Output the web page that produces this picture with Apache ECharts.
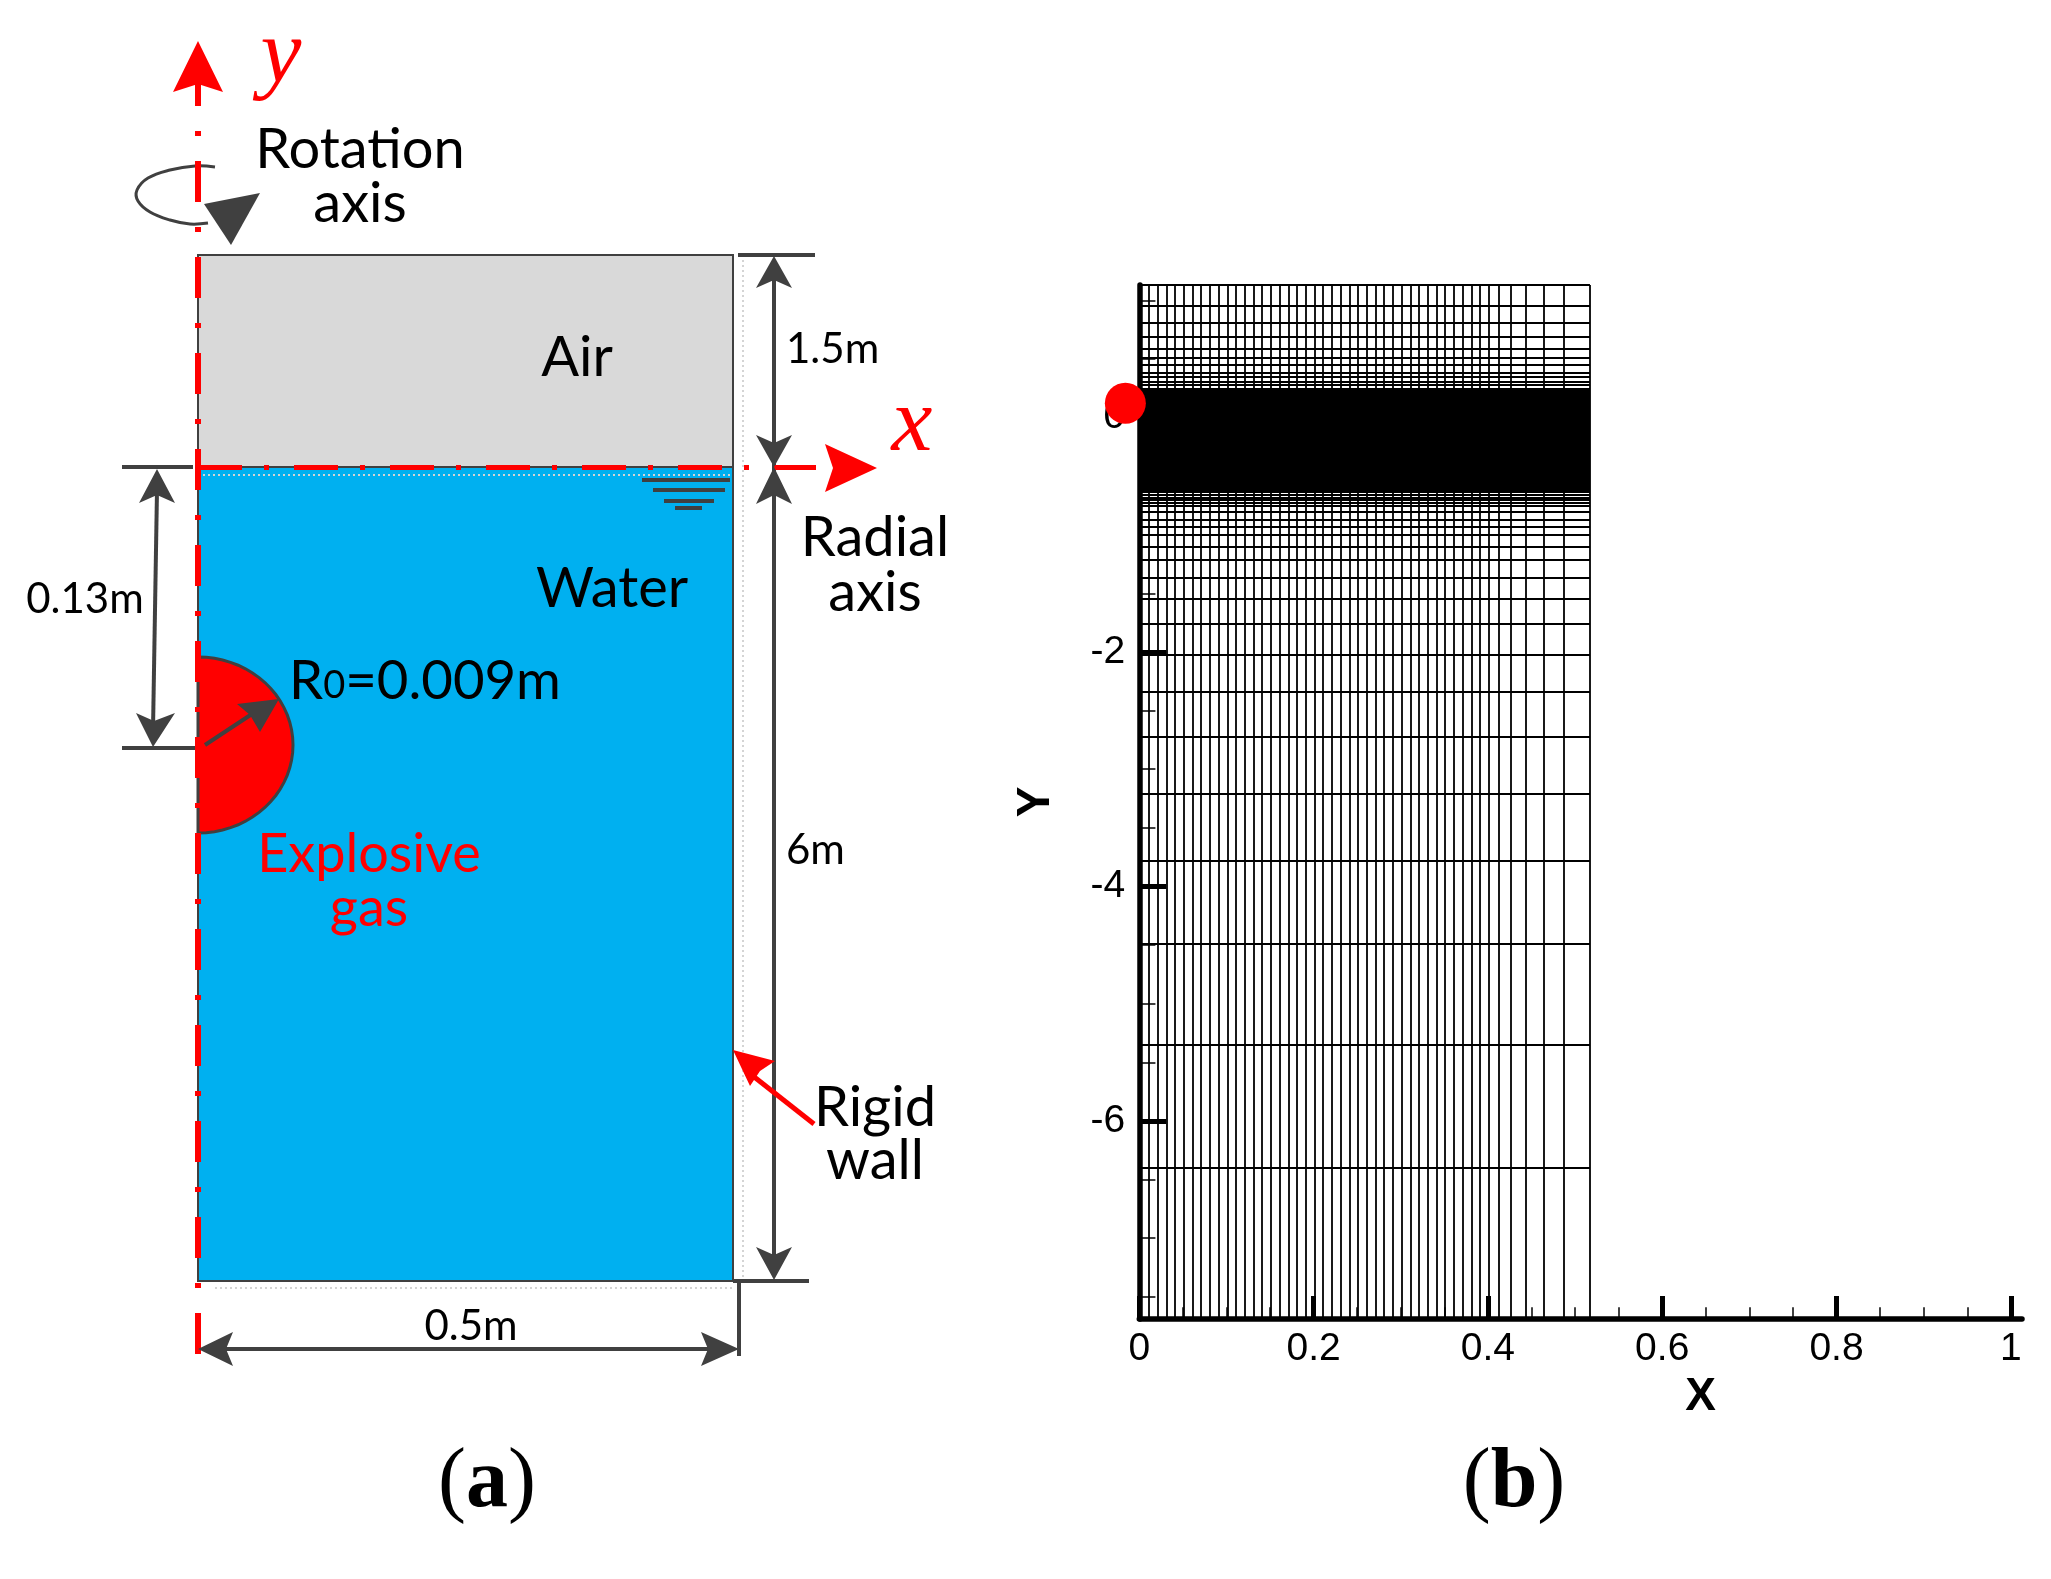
<!doctype html>
<html>
<head>
<meta charset="utf-8">
<title>Model and mesh</title>
<style>html,body{margin:0;background:#fff}#main{width:2051px;height:1579px}</style>
</head>
<body>
<div id="main"></div>
<script src="https://cdn.jsdelivr.net/npm/echarts@6/dist/echarts.min.js"></script>
<script>
// panel (b): mesh lines and ticks, in axis units
var meshX = [0.011, 0.021, 0.031, 0.041, 0.051, 0.061, 0.071, 0.081, 0.091, 0.101,
    0.111, 0.121, 0.131, 0.141, 0.151, 0.161, 0.171, 0.181, 0.191, 0.201,
    0.211, 0.221, 0.231, 0.241, 0.251, 0.261, 0.271, 0.281, 0.291, 0.301,
    0.311, 0.321, 0.331, 0.341, 0.351, 0.361, 0.371, 0.381, 0.391, 0.401,
    0.4127, 0.4265, 0.4434, 0.4638, 0.4873, 0.5171];
var meshY = [1.131, 0.955, 0.805, 0.690, 0.588, 0.513, 0.451, 0.383, 0.349, 0.306, 0.278, 0.250,
    -0.660, -0.680, -0.703, -0.726, -0.754, -0.803, -0.868, -0.931, -1.002, -1.102, -1.215,
    -1.366, -1.542, -1.761, -2.023, -2.339, -2.725, -3.212, -3.780, -4.491, -5.353, -6.403];
var denseBand = [0.2355, -0.643];          // rows too fine to tell apart, solid black
var meshTop = 1.131, meshBottom = -7.69, meshRight = 0.5171;
var xMajor = [0, 0.2, 0.4, 0.6, 0.8, 1];
var xMinor = [0.05, 0.1, 0.15, 0.25, 0.3, 0.35, 0.45, 0.5, 0.55, 0.65, 0.7, 0.75, 0.85, 0.9, 0.95];
var yMajor = [0, -2, -4, -6];
var yMinor = [1, 0.5, -0.5, -1, -1.5, -2.5, -3, -3.5, -4.5, -5, -5.5, -6.5, -7, -7.5];
var chargePoint = [-0.016, 0.122];

// panel (a): schematic, in sketch units of the hidden axes
var airBox = [198, 255, 733, 467];
var waterBox = [198, 467, 733, 1281];
var chargeCentre = [198, 745];
var chargeRadii = [95, 88];
var redAxisY = [198, 65, 198, 1356];
var redAxisX = [198, 467, 816, 467];
var darkLines = [
    [122, 467, 193, 467], [122, 748, 198, 748], [157, 490, 153, 730],
    [738, 255, 815, 255], [774, 270, 774, 1262], [733, 1281, 809, 1281], [739, 1281, 739, 1356],
    [212, 1349, 725, 1349], [205, 745, 255, 712],
    [642, 480, 730, 480], [653, 490, 725, 490], [664, 501, 714, 501], [675, 508, 702, 508]
];
var wallEdges = [[198, 255, 198, 1281], [733, 255, 733, 1281]];
var speckleLines = [[743, 255, 743, 1281], [198, 475, 733, 475], [215, 1288, 733, 1288]];
var redPointer = [[814, 1124, 753, 1076]];
var spinArc = [[215, 167], [195, 166], [170, 170], [148, 178], [137, 190], [138, 201],
    [150, 212], [170, 220], [190, 224], [208, 223]];
var darkHeads = [
    [[231, 245], [204, 204], [260, 193]],
    [[157, 469], [139, 503], [157, 495], [175, 503]],
    [[153, 747], [136, 713], [154, 721], [175, 713]],
    [[774, 256], [756, 288], [774, 280], [792, 288]],
    [[774, 467], [756, 435], [774, 443], [792, 435]],
    [[774, 467], [756, 504], [774, 495], [792, 504]],
    [[774, 1280], [756, 1247], [774, 1255], [792, 1247]],
    [[198, 1349], [233, 1332], [226, 1349], [233, 1366]],
    [[739, 1349], [701, 1332], [708, 1349], [701, 1366]],
    [[279, 699], [237, 704], [250, 715], [260, 732]]
];
var redHeads = [
    [[198, 41], [173, 92], [198, 84], [223, 92]],
    [[877, 468], [825, 444], [833, 468], [825, 492]],
    [[733, 1050], [775, 1061], [760, 1071], [750, 1086]]
];
var blackLabels = [
    ['Rotation', 360, 150, 56], ['axis', 360, 204, 56],
    ['Air', 577, 358, 56], ['Water', 612, 589, 56],
    ['Radial', 875, 538, 56], ['axis', 875, 593, 56],
    ['Rigid', 875, 1108, 56], ['wall', 875, 1161, 56],
    ['0.13m', 85, 599, 42], ['0.5m', 471, 1326, 42]
];
var leftLabels = [['1.5m', 786, 349, 42], ['6m', 786, 850, 42]];
var redLabels = [['Explosive', 369, 855, 54], ['gas', 369, 909, 54]];
var axisLetters = [['y', 281, 58, 92], ['x', 912, 426, 92]];
var radiusLabel = ['{r|R}{s|0}{r|=0.009m}', 289, 681];
var panelLabels = [['{p|(}{b|a}{p|)}', 487, 1484], ['{p|(}{b|b}{p|)}', 1514, 1484]];

var SK = { xAxisIndex: 0, yAxisIndex: 0 };
var MESH = { xAxisIndex: 1, yAxisIndex: 1 };

function segments(axes, list, color, width, dash, z) {
    return Object.assign({
        type: 'lines', coordinateSystem: 'cartesian2d', silent: true, clip: false, z: z,
        lineStyle: { color: color, width: width, opacity: 1, type: dash || 'solid', curveness: 0 },
        data: list.map(function (s) { return { coords: [[s[0], s[1]], [s[2], s[3]]] }; })
    }, axes);
}

function custom(list, z, draw) {
    return Object.assign({
        type: 'custom', coordinateSystem: 'cartesian2d', silent: true, clip: false, z: z,
        encode: { x: 0, y: 1 },
        data: list.map(function () { return [0, 0]; }),
        renderItem: function (params, api) { return draw(list[params.dataIndex], api); }
    }, SK);
}

function polygons(list, fill, z) {
    return custom(list, z, function (pts, api) {
        return { type: 'polygon', shape: { points: pts.map(function (p) { return api.coord(p); }) }, style: { fill: fill } };
    });
}

function box(rect, fill, z) {
    return custom([rect], z, function (r, api) {
        var a = api.coord([r[0], r[1]]), b = api.coord([r[2], r[3]]);
        return { type: 'rect', shape: { x: a[0], y: a[1], width: b[0] - a[0], height: b[1] - a[1] },
            style: { fill: fill, stroke: '#404040', lineWidth: 2 } };
    });
}

function texts(list, z, family, style, align) {
    return custom(list, z, function (t, api) {
        var p = api.coord([t[1], t[2]]);
        return { type: 'text', x: p[0], y: p[1], style: Object.assign({
            text: t[0], align: align || 'center', verticalAlign: 'middle',
            fontFamily: family, fontSize: t[3]
        }, style) };
    });
}

var chargeSeries = custom([chargeCentre], 4, function (c, api) {
    var pts = [];
    for (var a = -90; a <= 90; a += 5) {
        pts.push(api.coord([c[0] + chargeRadii[0] * Math.cos(a * Math.PI / 180),
            c[1] + chargeRadii[1] * Math.sin(a * Math.PI / 180)]));
    }
    return { type: 'polygon', shape: { points: pts }, style: { fill: '#FF0000', stroke: '#404040', lineWidth: 3 } };
});

var arcSeries = custom([spinArc], 4, function (pts, api) {
    return { type: 'polyline', shape: { points: pts.map(function (p) { return api.coord(p); }), smooth: 0.4 },
        style: { fill: 'none', stroke: '#404040', lineWidth: 3 } };
});

var bandSeries = Object.assign({
    type: 'custom', coordinateSystem: 'cartesian2d', silent: true, clip: false, z: 3,
    encode: { x: 0, y: 1 }, data: [[0, denseBand[0]]],
    renderItem: function (params, api) {
        var a = api.coord([0, denseBand[0]]), b = api.coord([meshRight, denseBand[1]]);
        return { type: 'rect', shape: { x: a[0], y: a[1], width: b[0] - a[0], height: b[1] - a[1] }, style: { fill: '#000' } };
    }
}, MESH);

var option = {
    animation: false,
    backgroundColor: '#fff',
    grid: [
        { left: 0, top: 0, width: 1000, height: 1579 },
        { left: 1139.3, top: 285, width: 882.7, height: 1034 }
    ],
    xAxis: [
        { gridIndex: 0, type: 'value', min: 0, max: 1000, show: false },
        {
            gridIndex: 1, type: 'value', min: 0, max: 1.0128,
            name: 'X', nameLocation: 'middle', nameGap: 45,
            nameTextStyle: { fontFamily: 'Liberation Sans', fontWeight: 'bold', fontSize: 46, color: '#000', padding: [0, 0, 0, 240] },
            axisLine: { onZero: false, lineStyle: { color: '#000', width: 5.5 } },
            axisTick: { inside: true, length: 23, lineStyle: { color: '#000', width: 5 }, customValues: xMajor },
            axisLabel: { customValues: xMajor, margin: 11, fontFamily: 'Liberation Sans', fontSize: 39, color: '#000', showMinLabel: true, showMaxLabel: true },
            splitLine: { show: false }
        }
    ],
    yAxis: [
        { gridIndex: 0, type: 'value', min: 0, max: 1579, inverse: true, show: false },
        {
            gridIndex: 1, type: 'value', min: meshBottom, max: meshTop,
            name: 'Y', nameLocation: 'middle', nameGap: 80,
            nameTextStyle: { fontFamily: 'Liberation Sans', fontWeight: 'bold', fontSize: 46, color: '#000' },
            axisLine: { onZero: false, lineStyle: { color: '#000', width: 5.5 } },
            axisTick: { inside: true, length: 27, lineStyle: { color: '#000', width: 5 }, customValues: yMajor },
            axisLabel: { customValues: yMajor, margin: 14, padding: [10, 0, 0, 0], fontFamily: 'Liberation Sans', fontSize: 39, color: '#000' },
            splitLine: { show: false }
        }
    ],
    series: [
        // panel (b)
        segments(MESH, meshX.map(function (x) { return [x, meshBottom, x, meshTop]; }), '#000', 1.8, null, 2),
        segments(MESH, meshY.map(function (y) { return [0, y, meshRight, y]; }), '#000', 1.8, null, 2),
        bandSeries,
        segments(MESH, xMinor.map(function (x) { return [x, meshBottom, x, -7.59]; }), '#000', 1.5, null, 3),
        segments(MESH, yMinor.map(function (y) { return [0, y, 0.0185, y]; }), '#000', 1.5, null, 3),
        {
            type: 'scatter', xAxisIndex: 1, yAxisIndex: 1, clip: false, silent: true, z: 5,
            symbol: 'circle', symbolSize: 41, itemStyle: { color: '#FF0000', opacity: 1 },
            data: [chargePoint]
        },

        // panel (a)
        box(airBox, '#D9D9D9', 1),
        box(waterBox, '#00B0F0', 1),
        segments(SK, speckleLines, '#D4D4D4', 2, [2, 3], 1),
        segments(SK, wallEdges, '#404040', 2, null, 2),
        chargeSeries,
        arcSeries,
        segments(SK, darkLines, '#404040', 4, null, 5),
        polygons(darkHeads, '#404040', 6),
        segments(SK, [redAxisY], '#FF0000', 6, [41, 25, 5, 25], 5),
        segments(SK, [redAxisX], '#FF0000', 5, [44, 22, 5, 25], 5),
        segments(SK, redPointer, '#FF0000', 5, null, 5),
        polygons(redHeads, '#FF0000', 6),
        texts(blackLabels, 7, 'Lato', { fill: '#000' }),
        texts(leftLabels, 7, 'Lato', { fill: '#000' }, 'left'),
        texts(redLabels, 7, 'Lato', { fill: '#FF0000' }),
        texts(axisLetters, 7, 'Liberation Serif', { fill: '#FF0000', fontStyle: 'italic' }),
        texts([radiusLabel], 7, 'Lato', {
            fill: '#000',
            rich: { r: { fontFamily: 'Lato', fontSize: 54.5, fill: '#000' }, s: { fontFamily: 'Lato', fontSize: 38, fill: '#000', padding: [10, 0, 0, 0] } }
        }, 'left'),
        texts(panelLabels, 7, 'Liberation Serif', {
            fill: '#000',
            rich: {
                p: { fontFamily: 'Liberation Serif', fontSize: 84, fill: '#000' },
                b: { fontFamily: 'Liberation Serif', fontSize: 84, fontWeight: 'bold', fill: '#000' }
            }
        })
    ]
};

var chart = echarts.init(document.getElementById('main'));
chart.setOption(option);
</script>
</body>
</html>
